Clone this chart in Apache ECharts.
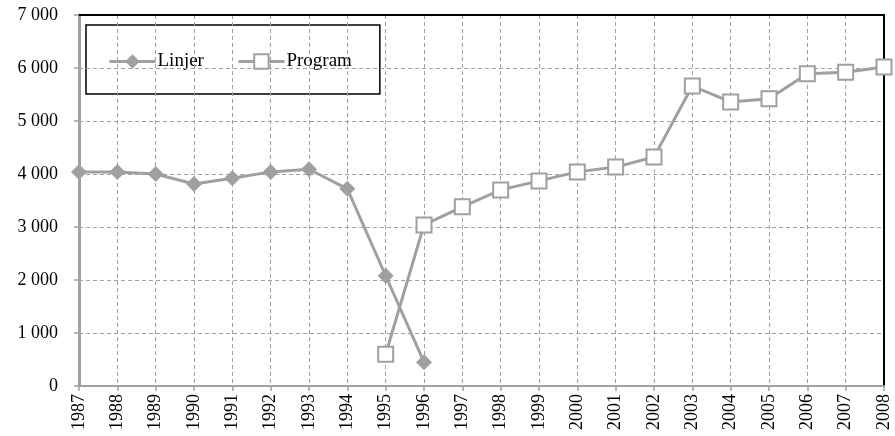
<!DOCTYPE html>
<html><head><meta charset="utf-8">
<script src="https://cdn.jsdelivr.net/npm/echarts@6/dist/echarts.min.js"></script>
<style>html,body{margin:0;padding:0;background:#fff}#c{width:895px;height:436px}</style>
</head><body><div id="c"></div>
<script>
const years = ['1987','1988','1989','1990','1991','1992','1993','1994','1995','1996','1997','1998','1999','2000','2001','2002','2003','2004','2005','2006','2007','2008'];
const linjer = [4040,4040,4000,3810,3920,4040,4090,3720,2080,450,null,null,null,null,null,null,null,null,null,null,null,null];
const program = [null,null,null,null,null,null,null,null,600,3040,3380,3700,3870,4040,4130,4320,5660,5360,5420,5890,5920,6020];
const yTicks = {min:0, max:7000, interval:1000};

const GRAY = '#a0a0a0';
const FONT = '"Liberation Serif", "DejaVu Serif", serif';
const fmt = v=>String(v).replace(/\B(?=(\d{3})+(?!\d))/g,' ');
const chart = echarts.init(document.getElementById('c'));
chart.setOption({
  animation:false,
  backgroundColor:'#fff',
  grid:{left:79,right:11,top:15,bottom:50},
  legend:{
    left:86, top:25, width:300,
    padding:[27,28,23,22],
    borderColor:'#000', borderWidth:1.5, backgroundColor:'#fff',
    itemWidth:46, itemHeight:18, itemGap:33,
    lineStyle:{width:3},
    textStyle:{fontFamily:FONT,fontSize:19,color:'#000',padding:[0,0,0,-3]},
    data:['Linjer','Program']
  },
  xAxis:[{
    type:'category', data:years, boundaryGap:false,
    axisLine:{show:true,lineStyle:{color:GRAY,width:2}},
    axisTick:{show:true,inside:false,length:5,alignWithLabel:true,lineStyle:{color:GRAY,width:1.5}},
    axisLabel:{rotate:90,margin:8,fontFamily:FONT,fontSize:18,color:'#000',interval:0},
    splitLine:{show:true,lineStyle:{color:GRAY,width:1,type:[4,3]}},
    z:5
  },{
    type:'category', data:years, boundaryGap:false, position:'top',
    axisLine:{show:true,onZero:false,lineStyle:{color:'#000',width:2}},
    axisTick:{show:false}, axisLabel:{show:false}, splitLine:{show:false}, z:5
  }],
  yAxis:[{
    type:'value', min:yTicks.min, max:yTicks.max, interval:yTicks.interval,
    axisLine:{show:true,lineStyle:{color:GRAY,width:3}},
    axisTick:{show:true,length:5,lineStyle:{color:GRAY,width:1.5}},
    axisLabel:{margin:21,fontFamily:FONT,fontSize:18,color:'#000',formatter:fmt},
    splitLine:{show:true,lineStyle:{color:GRAY,width:1,type:[4,3]}},
    z:5
  },{
    type:'value', min:yTicks.min, max:yTicks.max, interval:yTicks.interval, position:'right',
    axisLine:{show:true,onZero:false,lineStyle:{color:'#000',width:2}},
    axisTick:{show:false}, axisLabel:{show:false}, splitLine:{show:false}, z:5
  }],
  series:[
    {name:'Linjer',type:'line',data:linjer,symbol:'diamond',symbolSize:16,
     lineStyle:{color:GRAY,width:3},itemStyle:{color:GRAY,borderColor:GRAY,borderWidth:0},z:6},
    {name:'Program',type:'line',data:program,symbol:'rect',symbolSize:15,
     lineStyle:{color:GRAY,width:3},itemStyle:{color:'#fff',borderColor:GRAY,borderWidth:2},z:6}
  ]
});
</script></body></html>
